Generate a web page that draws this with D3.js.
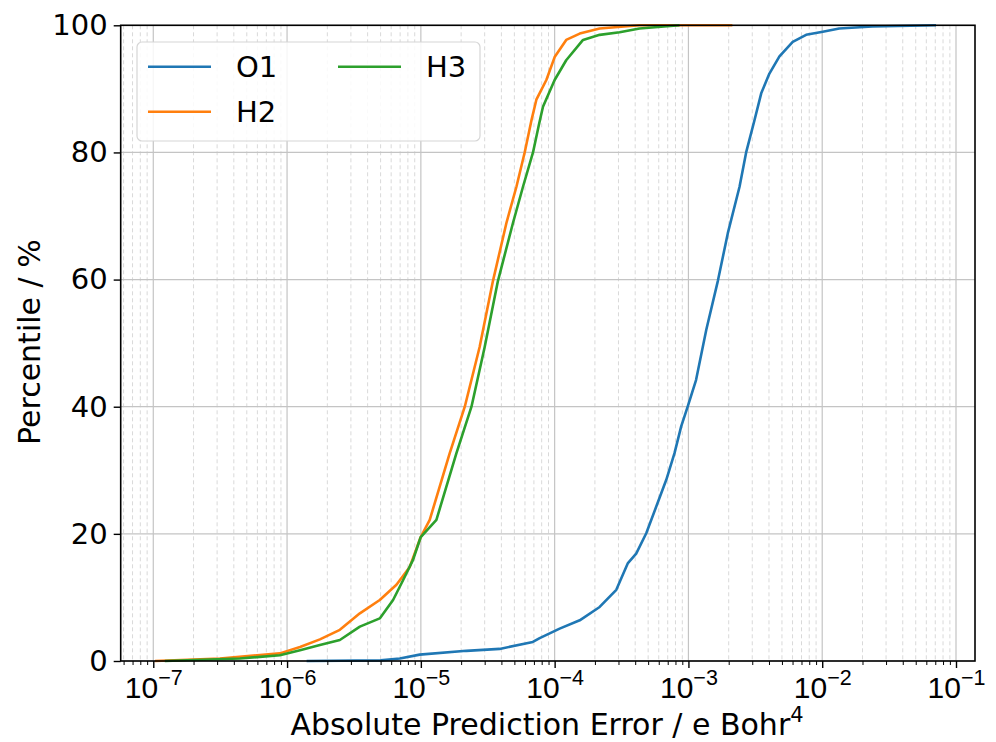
<!DOCTYPE html>
<html>
<head>
<meta charset="utf-8">
<script src="https://cdn.jsdelivr.net/npm/d3@7"></script>
<style>
  html, body { margin: 0; padding: 0; background: #fff; }
  svg { display: block; font-family: "DejaVu Sans", sans-serif; }
</style>
</head>
<body>
<svg id="chart" width="996" height="742"></svg>
<script>
// Cumulative distribution of absolute prediction errors per atom type
const seriesNames = ["O1", "H2", "H3"];
const seriesColors = ["#1f77b4", "#ff7f0e", "#2ca02c"];

// [absolute error (e Bohr^4), percentile (%)]
const errO1 = [
  [1.40e-6, 0], [5.0e-6, 0.1], [6.96e-6, 0.4], [9.81e-6, 1.0], [2.19e-5, 1.6],
  [3.88e-5, 1.9], [6.87e-5, 3.0], [7.73e-5, 3.6], [1.09e-4, 5.1], [1.54e-4, 6.4],
  [2.17e-4, 8.5], [2.89e-4, 11.2], [3.53e-4, 15.4], [4.07e-4, 16.9], [4.84e-4, 20.1],
  [5.75e-4, 24.3], [6.83e-4, 28.5], [7.87e-4, 32.7], [8.83e-4, 36.9], [9.90e-4, 40.1],
  [1.14e-3, 44.2], [1.36e-3, 52.1], [1.66e-3, 59.8], [1.97e-3, 67.3], [2.41e-3, 74.6],
  [2.70e-3, 80.0], [3.12e-3, 85.1], [3.50e-3, 89.3], [4.03e-3, 92.4], [4.79e-3, 95.1],
  [6.02e-3, 97.4], [7.58e-3, 98.5], [1.01e-2, 99.0], [1.34e-2, 99.5], [2.37e-2, 99.8],
  [7.09e-2, 100]
];
const errH2 = [
  [1.03e-7, 0], [3.15e-7, 0.4], [8.83e-7, 1.2], [1.25e-6, 2.2], [1.76e-6, 3.4],
  [2.48e-6, 4.9], [3.50e-6, 7.5], [4.93e-6, 9.6], [6.57e-6, 12.0], [8.26e-6, 14.8],
  [9.98e-6, 19.5], [1.165e-5, 22.2], [1.644e-5, 32.7], [2.13e-5, 40.0], [2.75e-5, 49.4],
  [3.46e-5, 59.8], [4.36e-5, 68.9], [5.18e-5, 74.6], [5.97e-5, 80.0], [6.70e-5, 85.0],
  [7.30e-5, 88.3], [8.67e-5, 91.4], [1.00e-4, 95.0], [1.22e-4, 97.7], [1.54e-4, 98.7],
  [2.17e-4, 99.5], [4.31e-4, 100], [2.13e-3, 100]
];
const errH3 = [
  [1.22e-7, 0], [4.44e-7, 0.4], [8.83e-7, 0.9], [1.25e-6, 1.7], [1.76e-6, 2.5],
  [2.48e-6, 3.3], [3.50e-6, 5.4], [4.93e-6, 6.7], [6.20e-6, 9.6], [7.36e-6, 12.7],
  [8.74e-6, 15.9], [9.98e-6, 19.5], [1.307e-5, 22.2], [1.845e-5, 32.7], [2.39e-5, 40.0],
  [3.00e-5, 49.4], [3.77e-5, 59.8], [4.88e-5, 68.9], [5.80e-5, 74.6], [6.89e-5, 80.0],
  [7.60e-5, 84.2], [8.18e-5, 87.2], [1.00e-4, 91.4], [1.22e-4, 94.5], [1.63e-4, 97.7],
  [2.17e-4, 98.5], [3.06e-4, 98.9], [4.31e-4, 99.5], [8.58e-4, 100]
];

const xTickExponents = [-7, -6, -5, -4, -3, -2, -1];
const yTickValues = [0, 20, 40, 60, 80, 100];
const xLabel = "Absolute Prediction Error / e Bohr";
const xLabelSup = "4";
const yLabel = "Percentile / %";

const series = [errO1, errH2, errH3];

const svg = d3.select("#chart");
const plot = { left: 120.7, right: 975, top: 25.3, bottom: 661 };

const x = d3.scaleLog()
  .domain([Math.pow(10, -7.2435), Math.pow(10, -0.858)])
  .range([plot.left, plot.right]);
const y = d3.scaleLinear().domain([0, 100]).range([plot.bottom, plot.top]);

const majors = xTickExponents.map(e => Math.pow(10, e));
const minors = [];
for (let e = -8; e <= 0; e++) {
  for (let m = 2; m <= 9; m++) {
    const v = m * Math.pow(10, e);
    if (v >= x.domain()[0] && v <= x.domain()[1]) minors.push(v);
  }
}

// grid
const grid = svg.append("g");
grid.selectAll(".minor").data(minors).enter().append("line")
  .attr("x1", d => x(d)).attr("x2", d => x(d))
  .attr("y1", plot.top).attr("y2", plot.bottom)
  .attr("stroke", "#d9d9d9").attr("stroke-width", 1)
  .attr("stroke-dasharray", "4,3");
grid.selectAll(".majorx").data(majors).enter().append("line")
  .attr("x1", d => x(d)).attr("x2", d => x(d))
  .attr("y1", plot.top).attr("y2", plot.bottom)
  .attr("stroke", "#c4c4c4").attr("stroke-width", 1.2);
grid.selectAll(".majory").data(yTickValues).enter().append("line")
  .attr("x1", plot.left).attr("x2", plot.right)
  .attr("y1", d => y(d)).attr("y2", d => y(d))
  .attr("stroke", "#c4c4c4").attr("stroke-width", 1.2);

// curves
const line = d3.line().x(d => x(d[0])).y(d => y(d[1]));
series.forEach((s, i) => {
  svg.append("path").datum(s)
    .attr("d", line)
    .attr("fill", "none")
    .attr("stroke", seriesColors[i])
    .attr("stroke-width", 2.6)
    .attr("stroke-linejoin", "round");
});

// axes
const xAxisMinor = d3.axisBottom(x).tickValues(minors).tickSize(4).tickFormat("");
svg.append("g").attr("transform", `translate(0,${plot.bottom})`).call(xAxisMinor)
  .call(g => g.select(".domain").remove())
  .selectAll("line").attr("stroke", "#000").attr("stroke-width", 1);

const xAxis = d3.axisBottom(x).tickValues(majors).tickSize(7).tickFormat("");
const gx = svg.append("g").attr("transform", `translate(0,${plot.bottom})`).call(xAxis);
gx.select(".domain").remove();
gx.selectAll("line").attr("stroke", "#000").attr("stroke-width", 1.4);
gx.selectAll(".tick").append("text")
  .attr("y", 37).attr("fill", "#000").attr("font-size", 30)
  .attr("text-anchor", "middle")
  .each(function(d) {
    const t = d3.select(this);
    const e = Math.round(Math.log10(d));
    t.append("tspan").text("10");
    t.append("tspan").attr("font-size", 21.5).attr("dy", -13).text("\u2212" + Math.abs(e));
  });

const yAxis = d3.axisLeft(y).tickValues(yTickValues).tickSize(7).tickPadding(6);
const gy = svg.append("g").attr("transform", `translate(${plot.left},0)`).call(yAxis);
gy.select(".domain").remove();
gy.selectAll("line").attr("stroke", "#000").attr("stroke-width", 1.4);
gy.selectAll("text").attr("font-size", 29).attr("fill", "#000")
  .attr("font-family", "DejaVu Sans, sans-serif");

// frame
svg.append("rect")
  .attr("x", plot.left).attr("y", plot.top)
  .attr("width", plot.right - plot.left).attr("height", plot.bottom - plot.top)
  .attr("fill", "none").attr("stroke", "#000").attr("stroke-width", 1.6);

// axis labels
const xl = svg.append("text")
  .attr("x", 547).attr("y", 735)
  .attr("text-anchor", "middle").attr("font-size", 30).attr("fill", "#000");
xl.append("tspan").text(xLabel);
xl.append("tspan").attr("font-size", 21).attr("dy", -13).text(xLabelSup);

svg.append("text")
  .attr("transform", `translate(40,${(plot.top + plot.bottom) / 2 - 1}) rotate(-90)`)
  .attr("text-anchor", "middle").attr("font-size", 30).attr("fill", "#000")
  .text(yLabel);

// legend
const lg = svg.append("g");
lg.append("rect")
  .attr("x", 137).attr("y", 42).attr("width", 343).attr("height", 99)
  .attr("rx", 5).attr("fill", "#fff").attr("fill-opacity", 0.85)
  .attr("stroke", "#d6d6d6").attr("stroke-width", 1.2);
const legendPos = [[148, 66.7], [148, 111.7], [338, 66.7]];
seriesNames.forEach((name, i) => {
  const [lx, ly] = legendPos[i];
  lg.append("line")
    .attr("x1", lx).attr("x2", lx + 63).attr("y1", ly).attr("y2", ly)
    .attr("stroke", seriesColors[i]).attr("stroke-width", 2.6);
  lg.append("text")
    .attr("x", lx + 88).attr("y", ly).attr("dy", "0.36em")
    .attr("font-size", 29).attr("fill", "#000").text(name);
});
</script>
</body>
</html>
